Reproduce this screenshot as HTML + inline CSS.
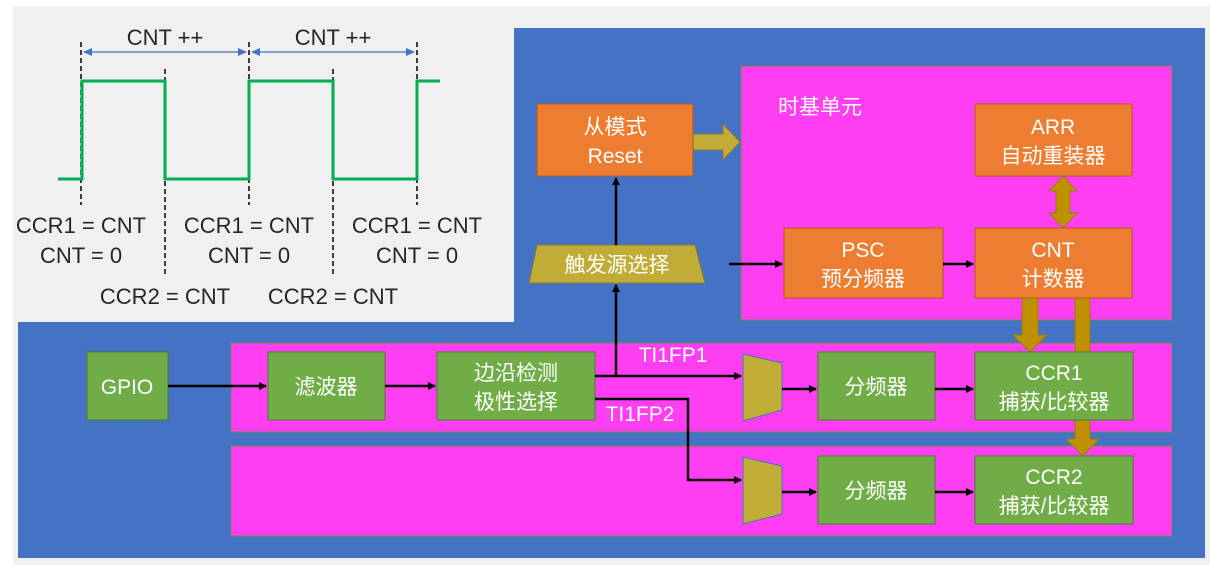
<!DOCTYPE html>
<html><head><meta charset="utf-8"><style>
html,body{margin:0;padding:0;background:#fff;}
svg{display:block;}
text{font-family:"Liberation Sans","Noto Sans CJK SC",sans-serif;}
</style></head><body>
<svg width="1222" height="570" viewBox="0 0 1222 570" xmlns="http://www.w3.org/2000/svg">
<defs>
<marker id="ab" markerWidth="8" markerHeight="8" refX="7" refY="4" orient="auto" markerUnits="userSpaceOnUse"><path d="M0,0 L8,4 L0,8 Z" fill="#000"/></marker>
</defs>
<rect x="13" y="6" width="1197" height="559" fill="#f0f0f0"/>
<path d="M514,28 H1205 V558 H18 V322 H514 Z" fill="#4472C4"/>
<!-- waveform -->
<g stroke="#000" stroke-width="1.5" stroke-dasharray="5,3">
<line x1="81" y1="42" x2="81" y2="205"/><line x1="249" y1="42" x2="249" y2="205"/><line x1="417" y1="42" x2="417" y2="205"/>
<line x1="165" y1="69" x2="165" y2="275"/><line x1="333" y1="69" x2="333" y2="275"/>
</g>
<polyline points="58,179 82,179 82,81 165,81 165,179 249,179 249,81 333,81 333,179 417,179 417,81 440,81" fill="none" stroke="#00B050" stroke-width="3"/>
<g stroke="#4472C4" stroke-width="1.2">
<line x1="84" y1="52" x2="246" y2="52"/>
<line x1="252" y1="52" x2="414" y2="52"/>
</g>
<path d="M83,52 l9,-4 v8z M247,52 l-9,-4 v8z M251,52 l9,-4 v8z M415,52 l-9,-4 v8z" fill="#4472C4"/>
<g font-size="22" fill="#262626" text-anchor="middle">
<text x="165" y="45">CNT ++</text><text x="333" y="45">CNT ++</text>
<text x="81" y="233">CCR1 = CNT</text><text x="81" y="263">CNT = 0</text>
<text x="249" y="233">CCR1 = CNT</text><text x="249" y="263">CNT = 0</text>
<text x="417" y="233">CCR1 = CNT</text><text x="417" y="263">CNT = 0</text>
<text x="165" y="304">CCR2 = CNT</text><text x="333" y="304">CCR2 = CNT</text>
</g>
<!-- pink regions -->
<g fill="#FF3EF2" stroke="#6a8a4a" stroke-width="1">
<rect x="741" y="66" width="431" height="254"/>
<rect x="231" y="343" width="941" height="89"/>
<rect x="231" y="446" width="941" height="90"/>
</g>
<text x="778" y="114" font-size="21" fill="#fff">时基单元</text>
<!-- gold arrows -->
<path d="M1022,298 h16 v37 h9 l-17,17 l-17,-17 h9 z" fill="#BF9000" stroke="#9a7a20"/>
<path d="M1075,298 h15 v141 h9 l-16,17 l-17,-17 h9 z" fill="#BF9000" stroke="#9a7a20"/>
<path d="M1063,176 l14,15 h-7 v22 h7 l-14,15 l-14,-15 h7 v-22 h-7 z" fill="#BF9000" stroke="#9a7a20"/>
<path d="M693,134 h30 v-10 l17,18 l-17,18 v-10 h-30 z" fill="#C0AC36" stroke="#8a7a30"/>
<!-- orange boxes -->
<g fill="#ED7D31" stroke="#ad5a20" stroke-width="1">
<rect x="537" y="104" width="156" height="72"/>
<rect x="975" y="104" width="157" height="72"/>
<rect x="784" y="228" width="159" height="70"/>
<rect x="975" y="228" width="157" height="70"/>
</g>
<!-- green boxes -->
<g fill="#70AD47" stroke="#4a7a30" stroke-width="1">
<rect x="87" y="352" width="81" height="68"/>
<rect x="268" y="352" width="117" height="68"/>
<rect x="437" y="352" width="158" height="68"/>
<rect x="818" y="352" width="117" height="68"/>
<rect x="975" y="352" width="158" height="68"/>
<rect x="818" y="456" width="117" height="68"/>
<rect x="975" y="456" width="158" height="68"/>
</g>
<!-- trapezoids -->
<polygon points="537,245 695,245 705,283 529,283" fill="#C0AC36" stroke="#8a7a30"/>
<polygon points="743,354 782,363 782,410 743,421" fill="#C0AC36" stroke="#4472C4"/>
<polygon points="743,457 782,466 782,514 743,524" fill="#C0AC36" stroke="#4472C4"/>
<!-- connectors -->
<g stroke="#000" stroke-width="2.5" fill="none">
<line x1="616" y1="245" x2="616" y2="178" marker-end="url(#ab)"/>
<polyline points="595,376 616,376 616,285" marker-end="url(#ab)"/>
<line x1="616" y1="376" x2="741" y2="376" marker-end="url(#ab)"/>
<polyline points="595,399 688,399 688,480 741,480" marker-end="url(#ab)"/>
<line x1="729" y1="264" x2="782" y2="264" marker-end="url(#ab)"/>
<line x1="943" y1="264" x2="973" y2="264" marker-end="url(#ab)"/>
<line x1="168" y1="386" x2="266" y2="386" marker-end="url(#ab)"/>
<line x1="385" y1="386" x2="435" y2="386" marker-end="url(#ab)"/>
<line x1="782" y1="389" x2="816" y2="389" marker-end="url(#ab)"/>
<line x1="935" y1="389" x2="973" y2="389" marker-end="url(#ab)"/>
<line x1="782" y1="492" x2="816" y2="492" marker-end="url(#ab)"/>
<line x1="935" y1="492" x2="973" y2="492" marker-end="url(#ab)"/>
</g>
<!-- labels -->
<g font-size="21" fill="#fff" text-anchor="middle">
<text x="615" y="134">从模式</text><text x="615" y="163">Reset</text>
<text x="1053" y="134">ARR</text><text x="1053" y="163">自动重装器</text>
<text x="863" y="257">PSC</text><text x="863" y="286">预分频器</text>
<text x="1053" y="257">CNT</text><text x="1053" y="286">计数器</text>
<text x="617" y="272">触发源选择</text>
<text x="127" y="394">GPIO</text>
<text x="326" y="394">滤波器</text>
<text x="516" y="380">边沿检测</text><text x="516" y="409">极性选择</text>
<text x="876" y="394">分频器</text>
<text x="1054" y="380">CCR1</text><text x="1054" y="409">捕获/比较器</text>
<text x="876" y="498">分频器</text>
<text x="1054" y="484">CCR2</text><text x="1054" y="513">捕获/比较器</text>
<text x="673" y="362">TI1FP1</text>
<text x="640" y="421">TI1FP2</text>
</g>
</svg>
</body></html>
